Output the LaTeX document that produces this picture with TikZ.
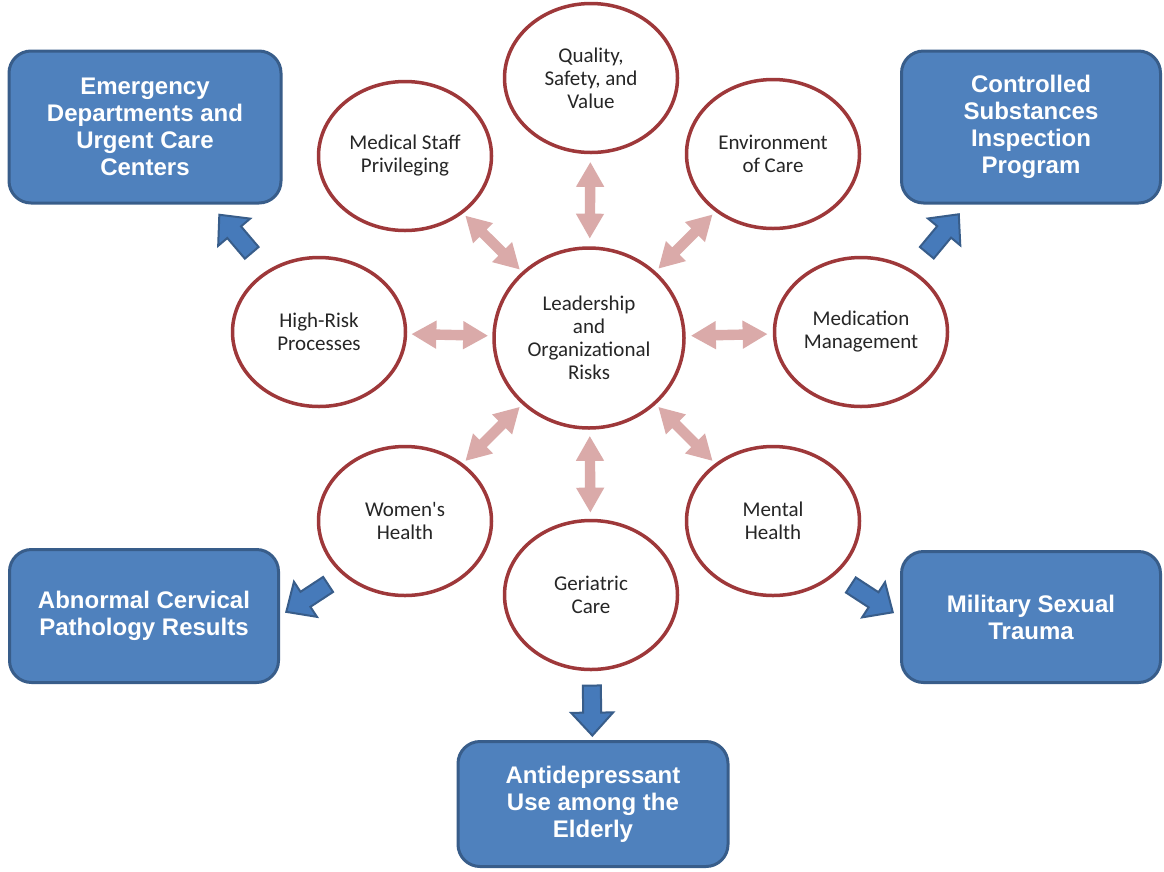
\documentclass[tikz,border=0pt]{standalone}
\usepackage{fontspec}
\setmainfont{Carlito}
\newfontfamily\riskfont{Carlito}
\newfontfamily\boxfont{Liberation Sans}
\usetikzlibrary{shapes.geometric,shapes.arrows}
\definecolor{ringred}{RGB}{158,56,58}
\definecolor{pinkfill}{RGB}{218,170,169}
\definecolor{boxblue}{RGB}{79,129,189}
\definecolor{boxedge}{RGB}{56,93,138}
\definecolor{arrowblue}{RGB}{70,122,186}
\tikzset{
  risk/.style={ellipse, draw=ringred, line width=3.5pt, fill=white,
    minimum width=173pt, minimum height=149pt, align=center,
    text=black!85, font=\riskfont\fontsize{21}{23}\selectfont},
  program/.style={rectangle, rounded corners=22pt, draw=boxedge, line width=3pt,
    fill=boxblue, align=center, text=white,
    font=\boxfont\bfseries\fontsize{24}{27}\selectfont},
  pinkarrow/.style={double arrow, fill=pinkfill, draw=none, inner xsep=0pt,
    inner ysep=5pt, minimum width=0pt, minimum height=76pt,
    double arrow head extend=9pt, double arrow tip angle=60,
    midway, sloped, allow upside down},
  bluearrow/.style={single arrow, fill=arrowblue, draw=boxedge, line width=2pt,
    inner xsep=0pt, inner ysep=8pt, minimum width=0pt, minimum height=50pt,
    single arrow head extend=12pt, single arrow tip angle=85,
    midway, sloped, allow upside down}
}

\begin{document}
\begin{tikzpicture}[x=1pt,y=-1pt]
  \useasboundingbox[fill=white] (0,0) rectangle (1164,871);
  % risk areas
  \node[risk, minimum width=190pt, minimum height=180pt] (lead) at (589,338) {Leadership\\and\\Organizational\\Risks};
  \node[risk] (qsv) at (591,78) {Quality,\\Safety, and\\Value};
  \node[risk] (msp) at (405,156) {Medical Staff\\Privileging};
  \node[risk] (env) at (773,154) {Environment\\of Care};
  \node[risk] (hrp) at (319,332) {High-Risk\\Processes};
  \node[risk] (med) at (861,332) {Medication\\Management};
  \node[risk] (wh) at (405,521) {Women's\\Health};
  \node[risk] (ger) at (591,595) {Geriatric\\Care};
  \node[risk] (mh) at (773,521) {Mental\\Health};
  % programs
  \node[program, minimum width=272pt, minimum height=152pt] (edu) at (145,127) {Emergency\\Departments and\\Urgent Care\\Centers};
  \node[program, minimum width=259pt, minimum height=152pt] (csip) at (1031,127) {Controlled\\Substances\\Inspection\\Program};
  \node[program, minimum width=269pt, minimum height=133pt] (acpr) at (144,616) {Abnormal Cervical\\Pathology Results};
  \node[program, minimum width=259pt, minimum height=131pt] (mst) at (1031,617) {Military Sexual\\Trauma};
  \node[program, minimum width=270pt, minimum height=125pt] (adue) at (593,804) {Antidepressant\\Use among the\\Elderly};
  % links
  \foreach \c in {qsv,msp,env,hrp,med,wh,ger,mh}
    \path (lead) -- node[pinkarrow] {} (\c);
  \path (hrp) -- node[bluearrow] {} (edu);
  \path (med) -- node[bluearrow] {} (csip);
  \path (wh.south west) -- node[bluearrow] {} (acpr.east);
  \path (mh.south east) -- node[bluearrow] {} (mst.west);
  \path (ger) -- node[bluearrow] {} (adue);
\end{tikzpicture}
\end{document}
